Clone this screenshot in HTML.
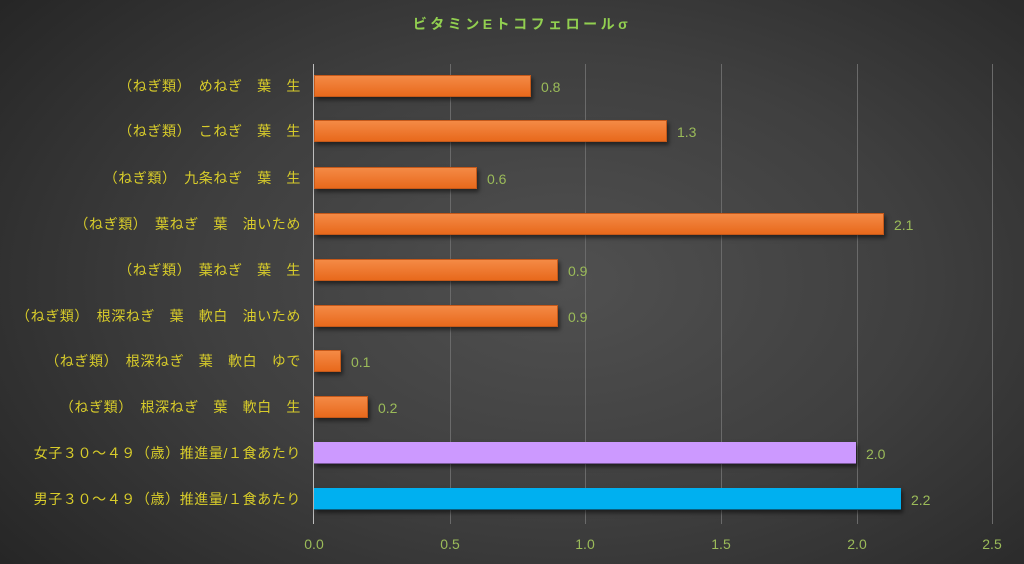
<!DOCTYPE html>
<html><head><meta charset="utf-8"><style>
html,body{margin:0;padding:0}
body{width:1024px;height:564px;overflow:hidden;background:radial-gradient(ellipse 70% 80% at 55% 50%,#505050 0%,#3f3f3f 50%,#262626 100%);font-family:"Liberation Sans","Noto Sans CJK JP",sans-serif;position:relative}
.t{position:absolute;white-space:nowrap}
.lab{right:723px;color:#d8cc2a;font-size:14px;letter-spacing:0.6px;line-height:16px;text-align:right}
.val{color:#9bbb59;font-size:14px;line-height:16px}
.bar{position:absolute;left:314px;height:22px;box-shadow:2px 3px 4px rgba(0,0,0,.5)}
.or{background:linear-gradient(#f48a45,#e8691c);border:1px solid #c5591a;box-sizing:border-box}
.grid{position:absolute;top:64px;height:460px;width:1px;background:#6a6a6a}
.tick{position:absolute;top:536px;color:#9bbb59;font-size:14px;width:40px;text-align:center}
</style></head><body>
<div class="t" style="left:0;width:1024px;top:14px;text-align:center;color:#92d050;font-weight:bold;font-size:14px;letter-spacing:3.5px;text-indent:20px">ビタミンEトコフェロールσ</div>
<div class="grid" style="left:450px"></div>
<div class="grid" style="left:585px"></div>
<div class="grid" style="left:721px"></div>
<div class="grid" style="left:857px"></div>
<div class="grid" style="left:992px"></div>
<div class="grid" style="left:313px;background:#bdbdbd"></div>

<div class="bar or" style="top:75px;width:217px"></div>
<div class="bar or" style="top:120px;width:353px"></div>
<div class="bar or" style="top:167px;width:163px"></div>
<div class="bar or" style="top:213px;width:570px"></div>
<div class="bar or" style="top:259px;width:244px"></div>
<div class="bar or" style="top:305px;width:244px"></div>
<div class="bar or" style="top:350px;width:27px"></div>
<div class="bar or" style="top:396px;width:54px"></div>
<div class="bar" style="top:442px;width:542px;background:#cc99ff;border-bottom:1px solid #7a5a99;box-sizing:border-box"></div>
<div class="bar" style="top:488px;width:587px;background:#00b0f0;border-bottom:1px solid #0a6080;box-sizing:border-box"></div>

<div class="t lab" style="top:78px">（ねぎ類）　めねぎ　葉　生</div>
<div class="t lab" style="top:123px">（ねぎ類）　こねぎ　葉　生</div>
<div class="t lab" style="top:170px">（ねぎ類）　九条ねぎ　葉　生</div>
<div class="t lab" style="top:216px">（ねぎ類）　葉ねぎ　葉　油いため</div>
<div class="t lab" style="top:262px">（ねぎ類）　葉ねぎ　葉　生</div>
<div class="t lab" style="top:308px">（ねぎ類）　根深ねぎ　葉　軟白　油いため</div>
<div class="t lab" style="top:353px">（ねぎ類）　根深ねぎ　葉　軟白　ゆで</div>
<div class="t lab" style="top:399px">（ねぎ類）　根深ねぎ　葉　軟白　生</div>
<div class="t lab" style="top:445px">女子３０～４９（歳）推進量/１食あたり</div>
<div class="t lab" style="top:491px">男子３０～４９（歳）推進量/１食あたり</div>

<div class="t val" style="left:541px;top:79px">0.8</div>
<div class="t val" style="left:677px;top:124px">1.3</div>
<div class="t val" style="left:487px;top:171px">0.6</div>
<div class="t val" style="left:894px;top:217px">2.1</div>
<div class="t val" style="left:568px;top:263px">0.9</div>
<div class="t val" style="left:568px;top:309px">0.9</div>
<div class="t val" style="left:351px;top:354px">0.1</div>
<div class="t val" style="left:378px;top:400px">0.2</div>
<div class="t val" style="left:866px;top:446px">2.0</div>
<div class="t val" style="left:911px;top:492px">2.2</div>

<div class="tick" style="left:294px">0.0</div>
<div class="tick" style="left:430px">0.5</div>
<div class="tick" style="left:565px">1.0</div>
<div class="tick" style="left:701px">1.5</div>
<div class="tick" style="left:837px">2.0</div>
<div class="tick" style="left:972px">2.5</div>
</body></html>
